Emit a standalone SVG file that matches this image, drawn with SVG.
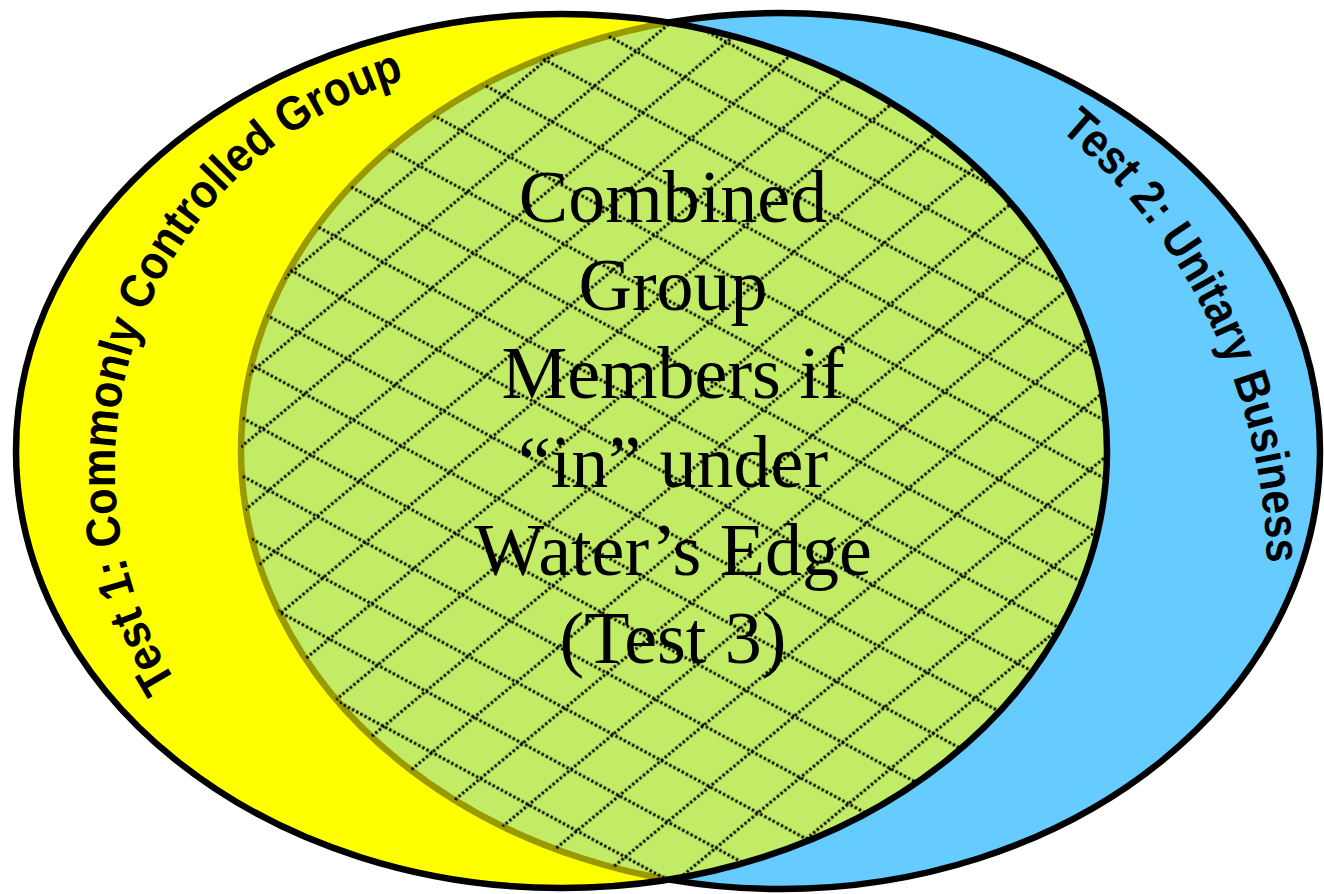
<svg xmlns="http://www.w3.org/2000/svg" width="1324" height="894" viewBox="0 0 1324 894">
  <defs>
    <style>
      .outline { fill: none; stroke: #000; stroke-width: 6.5; }
      .arc { font-family: "Liberation Sans", Arial, sans-serif; font-size: 48px; font-weight: bold; fill: #000; }
      .center { font-family: "Liberation Serif", "Times New Roman", serif; font-size: 74px; fill: #000; text-anchor: middle; }
      .hl { stroke: #000; stroke-width: 2.8; stroke-dasharray: 2.5 2.2; }
    </style>
    <clipPath id="clipYellow"><ellipse cx="561.5" cy="451" rx="545.5" ry="437"/></clipPath>
    <clipPath id="clipBlue"><ellipse cx="780.5" cy="451" rx="539.5" ry="438"/></clipPath>
    <pattern id="hatchA" patternUnits="userSpaceOnUse" x="0" y="0" width="47" height="51" patternTransform="rotate(28.4 969 637)">
      <line class="hl" x1="0" y1="25" x2="47" y2="25"/>
    </pattern>
    <pattern id="hatchB" patternUnits="userSpaceOnUse" x="0" y="0" width="47" height="51" patternTransform="rotate(-39.8 969 637)">
      <line class="hl" x1="0" y1="25" x2="47" y2="25"/>
    </pattern>
    <path id="pathLeft" d="M176.5,682.6 A405,405 0 0 1 722.5,117.3"/>
    <path id="pathRight" d="M1059.8,129.7 A580,580 0 0 1 1258.2,674.7"/>
  </defs>

  <g id="test1-base">
    <ellipse cx="561.5" cy="451" rx="545.5" ry="437" fill="#FFFF00"/>
  </g>

  <g id="test2">
    <ellipse cx="780.5" cy="451" rx="539.5" ry="438" fill="#66CCFF" stroke="#000" stroke-width="6.5"/>
  </g>

  <g id="overlap">
    <ellipse cx="561.5" cy="451" rx="545.5" ry="437" fill="#FFFF00" fill-opacity="0.6"/>
    <g clip-path="url(#clipYellow)">
      <g clip-path="url(#clipBlue)">
        <rect x="0" y="0" width="1324" height="894" fill="url(#hatchA)"/>
        <rect x="0" y="0" width="1324" height="894" fill="url(#hatchB)"/>
      </g>
    </g>
  </g>

  <g id="test1">
    <ellipse class="outline" cx="561.5" cy="451" rx="545.5" ry="437"/>
    <text class="arc"><textPath href="#pathLeft" textLength="745" lengthAdjust="spacingAndGlyphs">Test 1: Commonly Controlled Group</textPath></text>
  </g>

  <g id="test2-label">
    <text class="arc"><textPath href="#pathRight" textLength="495" lengthAdjust="spacingAndGlyphs">Test 2: Unitary Business</textPath></text>
  </g>

  <g id="combined-label">
    <text class="center" x="673" y="222">Combined</text>
    <text class="center" x="673" y="310">Group</text>
    <text class="center" x="673" y="398">Members if</text>
    <text class="center" x="673" y="487">“in” under</text>
    <text class="center" x="673" y="575">Water’s Edge</text>
    <text class="center" x="673" y="663">(Test 3)</text>
  </g>

  <g id="connectors"></g>
</svg>
